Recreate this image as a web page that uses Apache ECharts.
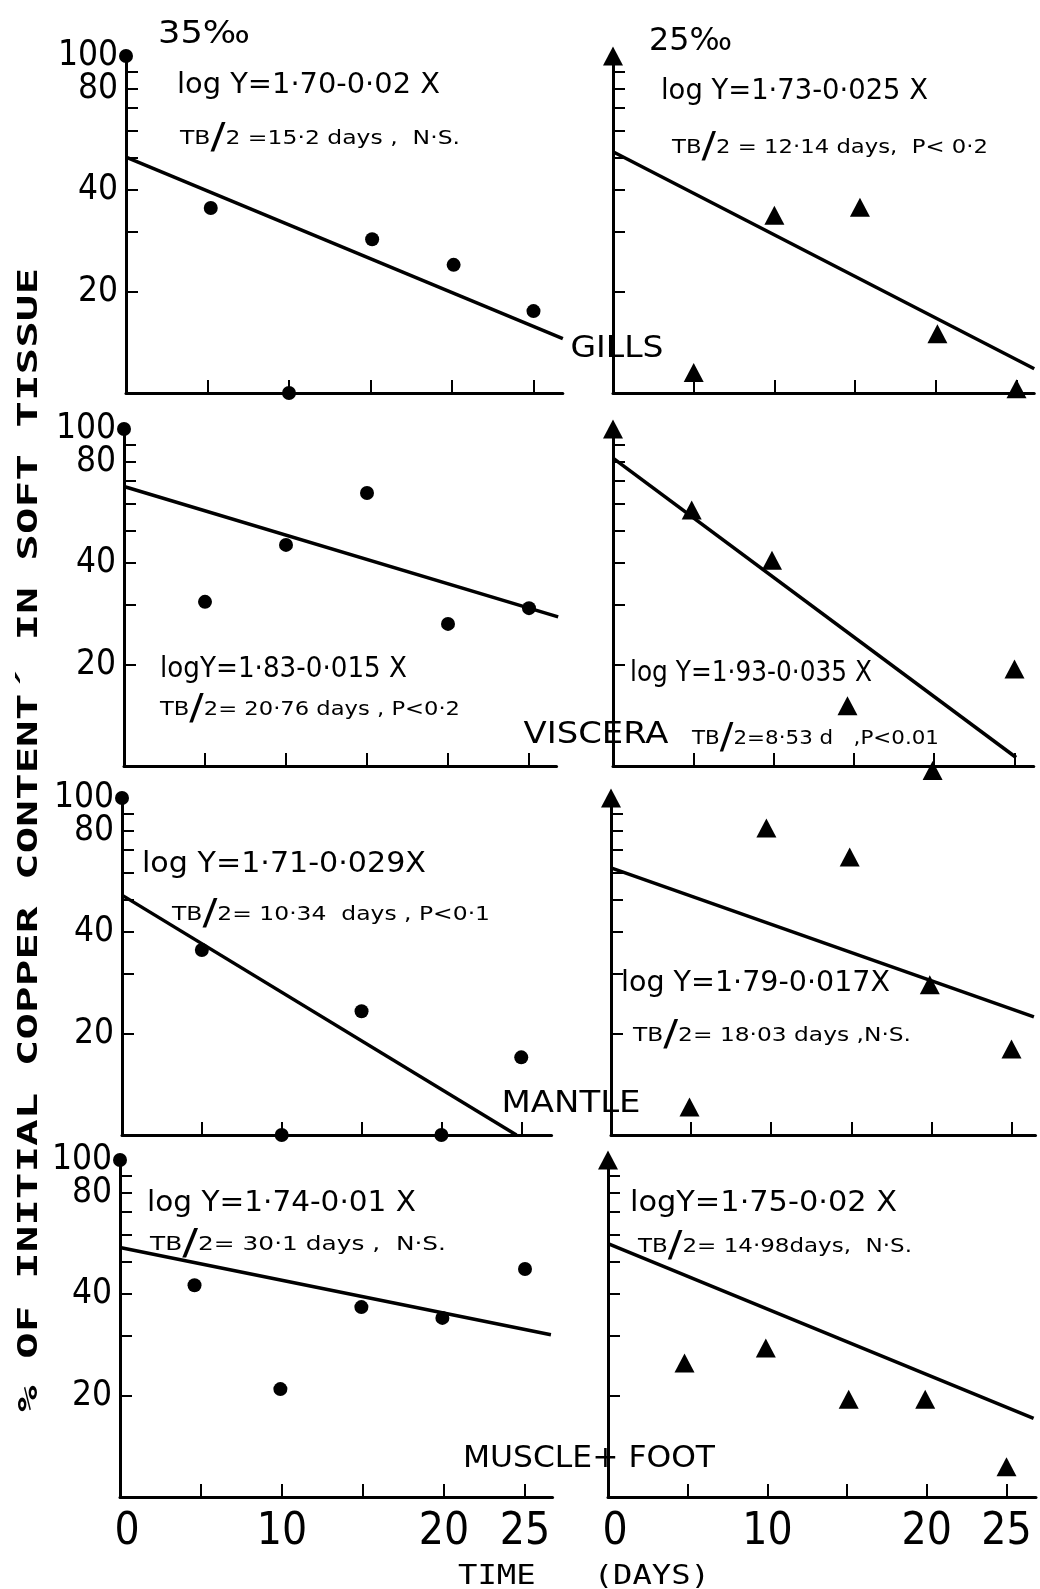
<!DOCTYPE html>
<html>
<head>
<meta charset="utf-8">
<title>Copper loss from soft tissues</title>
<script src="https://cdn.jsdelivr.net/npm/echarts@6/dist/echarts.min.js"></script>
<style>
  html, body { margin: 0; padding: 0; background: #fff; }
  #chart { width: 1040px; height: 1589px; }
</style>
</head>
<body>
<div id="chart"></div>
<script>
// ---- data -------------------------------------------------------------
// Sampling days as plotted in each panel
const daysGills35   = [0, 5.2, 10, 15.1, 20.1, 25];
const daysGills25   = [0, 5, 10, 15.3, 20.1, 25];
const daysViscera35 = [0, 5, 10, 15, 20, 25];
const daysViscera25 = [0, 4.9, 9.9, 14.6, 19.9, 25];
const daysMantle35  = [0, 5, 10, 15, 20, 25];
const daysMantle25  = [0, 4.9, 9.7, 14.9, 19.9, 25];
const daysMuscle35  = [0, 4.6, 9.9, 14.9, 19.9, 25];
const daysMuscle25  = [0, 4.8, 9.9, 15.1, 19.9, 25];

// % of initial copper remaining; 35‰ (circles) and 25‰ (triangles)
const gills35   = [100, 35.4, 10, 28.6, 24.0, 17.5];
const gills25   = [100, 11.5, 33.7, 35.6, 15.0, 10.3];
const viscera35 = [100, 30.7, 45.3, 64.6, 26.4, 29.4];
const viscera25 = [100, 57.5, 40.8, 15.1, 9.7, 19.4];
const mantle35  = [100, 35.4, 10, 23.3, 10, 17.0];
const mantle25  = [100, 12.1, 81.5, 66.8, 27.9, 18.0];
const muscle35  = [100, 42.5, 20.9, 36.6, 34.0, 47.5];
const muscle25  = [100, 25.0, 27.7, 19.5, 19.5, 12.3];

// Regression lines, [day, %] at each end
const gills35Fit   = [[0, 50.1], [26.8, 14.5]];
const gills25Fit   = [[0, 52.0], [26.1, 11.8]];
const viscera35Fit = [[0, 67.5], [26.8, 27.7]];
const viscera25Fit = [[0, 82.0], [25.1, 10.6]];
const mantle35Fit  = [[0, 51.5], [24.7, 10.0]];
const mantle25Fit  = [[0, 62.0], [26.4, 22.4]];
const muscle35Fit  = [[0, 55.0], [26.6, 30.3]];
const muscle25Fit  = [[0, 56.5], [26.7, 17.1]];

// Equations and half-lives
const eqGills35   = ['log Y=1·70-0·02 X', ['TB', '/', '2 =15·2 days ,  N·S.']];
const eqGills25   = ['log Y=1·73-0·025 X', ['TB', '/', '2 = 12·14 days,  P< 0·2']];
const eqViscera35 = ['logY=1·83-0·015 X', ['TB', '/', '2= 20·76 days , P<0·2']];
const eqViscera25 = ['log Y=1·93-0·035 X', ['TB', '/', '2=8·53 d   ,P<0.01']];
const eqMantle35  = ['log Y=1·71-0·029X', ['TB', '/', '2= 10·34  days , P<0·1']];
const eqMantle25  = ['log Y=1·79-0·017X', ['TB', '/', '2= 18·03 days ,N·S.']];
const eqMuscle35  = ['log Y=1·74-0·01 X', ['TB', '/', '2= 30·1 days ,  N·S.']];
const eqMuscle25  = ['logY=1·75-0·02 X', ['TB', '/', '2= 14·98days,  N·S.']];

const tissueNames = ['GILLS', 'VISCERA', 'MANTLE', 'MUSCLE+ FOOT'];
const salinityNames = ['35‰', '25‰'];

// Axis ticks and labels
const yTicks = [20, 30, 40, 50, 60, 70, 80, 90];
const yTickLabels = [20, 40, 80];
const yTopLabel = [100];
const xTicks = [5, 10, 15, 20, 25];
const xTickLabels = [0, 10, 20, 25];

const yTitle = '% OF INITIAL COPPER CONTENT´ IN SOFT TISSUE';
const xTitle = 'TIME   (DAYS)';

// ---- fonts --------------------------------------------------------------
const measureCtx = document.createElement('canvas').getContext('2d');
function textWidth(text, size, family, weight) {
  measureCtx.font = (weight || 'normal') + ' ' + size + 'px "' + family + '"';
  return measureCtx.measureText(text).width;
}
function pickFont(list) {
  const probe = 'MUSCLE 0123456789';
  for (const f of list) {
    measureCtx.font = '40px monospace';
    const w0 = measureCtx.measureText(probe).width;
    measureCtx.font = '40px "' + f + '", monospace';
    const w1 = measureCtx.measureText(probe).width;
    if (Math.abs(w1 - w0) > 0.5) return f;
  }
  return 'DejaVu Sans';
}
const NARROW = pickFont(['Liberation Sans Narrow', 'DejaVu Sans Condensed', 'Liberation Sans']);
const IS_NARROW = NARROW !== 'Liberation Sans';
const SANS = 'DejaVu Sans';
const MONO = 'DejaVu Sans Mono';

// ---- layout -------------------------------------------------------------
const ROW_TOP = [56, 429, 798, 1160];
const ROW_H = 337;
const COL_LEFT = [[126, 613], [124, 613], [122, 611], [120, 608]];
const PX_PER_DAY = [[16.3, 16.14], [16.2, 16.06], [15.97, 16.02], [16.2, 15.94]];
const X_MAX = [[26.8, 26.1], [26.7, 26.2], [26.9, 26.5], [26.7, 26.85]];

const PANELS = [
  { days: daysGills35,   values: gills35,   fit: gills35Fit },
  { days: daysGills25,   values: gills25,   fit: gills25Fit },
  { days: daysViscera35, values: viscera35, fit: viscera35Fit },
  { days: daysViscera25, values: viscera25, fit: viscera25Fit },
  { days: daysMantle35,  values: mantle35,  fit: mantle35Fit },
  { days: daysMantle25,  values: mantle25,  fit: mantle25Fit },
  { days: daysMuscle35,  values: muscle35,  fit: muscle35Fit },
  { days: daysMuscle25,  values: muscle25,  fit: muscle25Fit }
];
const EQUATIONS = [eqGills35, eqGills25, eqViscera35, eqViscera25,
                   eqMantle35, eqMantle25, eqMuscle35, eqMuscle25];

// [left, middle-y, width] of the equation lines
const EQ1_POS = [[177, 85, 263], [661, 91, 267], [160, 669, 247], [630, 673, 242],
                 [142, 864, 284], [621, 983, 269], [147, 1203, 269], [630, 1203, 267]];
const EQ2_POS = [[180, 139, 280], [672, 148, 316], [160, 710, 300], [692, 739, 247],
                 [172, 915, 318], [633, 1036, 278], [150, 1245, 296], [638, 1247, 274]];
// [centre-x, centre-y, width] of the tissue names
const NAME_POS = [[617, 349, 93], [596, 735, 145], [571, 1104, 139], [589, 1459, 252]];
const SAL_POS = [[158, 35, 92], [649, 42, 83]];

const LOG = v => Math.log10(v);
const X_SIZE = IS_NARROW ? 44 : 34;
const Y_SIZE = IS_NARROW ? 35 : 27;

function yLabelStyle(values) {
  return {
    show: true, customValues: values.map(LOG), margin: 8,
    showMinLabel: true, showMaxLabel: true, hideOverlap: false,
    color: '#000', fontFamily: NARROW, fontSize: Y_SIZE,
    formatter: v => String(Math.round(Math.pow(10, v)))
  };
}

const grids = [], xAxes = [], yAxes = [], labelAxes = [], series = [];
PANELS.forEach((p, i) => {
  const row = Math.floor(i / 2), col = i % 2;
  const xMax = X_MAX[row][col];
  grids.push({
    left: COL_LEFT[row][col], top: ROW_TOP[row],
    width: xMax * PX_PER_DAY[row][col], height: ROW_H
  });
  const bottomRow = row === 3;
  xAxes.push({
    type: 'value', gridIndex: i, min: 0, max: xMax,
    axisLine: { show: true, onZero: false, lineStyle: { color: '#000', width: 3 } },
    axisTick: { show: true, inside: true, length: 13, customValues: xTicks,
                lineStyle: { color: '#000', width: 2 } },
    splitLine: { show: false },
    axisLabel: {
      show: bottomRow, customValues: xTickLabels, margin: 14,
      showMinLabel: true, showMaxLabel: true, hideOverlap: false,
      color: '#000', fontFamily: NARROW, fontSize: X_SIZE,
      formatter: v => v === 0 ? '{z|0}' : String(v),
      rich: { z: { padding: [0, 0, 0, 14], color: '#000', fontFamily: NARROW, fontSize: X_SIZE } }
    }
  });
  const yLabel = yLabelStyle(yTickLabels);
  yLabel.show = col === 0;
  yAxes.push({
    type: 'value', gridIndex: i, min: 1, max: 2,
    axisLine: { show: true, onZero: false, lineStyle: { color: '#000', width: 3 } },
    axisTick: { show: true, inside: true, length: 12, customValues: yTicks.map(LOG),
                lineStyle: { color: '#000', width: 2 } },
    splitLine: { show: false },
    axisLabel: yLabel
  });
  // The "100" label sits on its own axis so it is not dropped next to "80"
  if (col === 0) {
    labelAxes.push({
      type: 'value', gridIndex: i, min: 1, max: 2, position: 'left',
      axisLine: { show: false }, axisTick: { show: false }, splitLine: { show: false },
      axisLabel: yLabelStyle(yTopLabel)
    });
  }
  series.push({
    type: 'line', xAxisIndex: i, yAxisIndex: i, symbol: 'none', clip: false,
    lineStyle: { color: '#000', width: 3.5 }, z: 2,
    data: p.fit.map(d => [d[0], LOG(d[1])])
  });
  series.push({
    type: 'scatter', xAxisIndex: i, yAxisIndex: i, clip: false, z: 3,
    symbol: col === 0 ? 'circle' : 'triangle',
    symbolSize: col === 0 ? 14 : [20, 19],
    itemStyle: { color: '#000', opacity: 1 },
    data: p.days.map((d, j) => [d, LOG(p.values[j])])
  });
});

// ---- text -------------------------------------------------------------
function plainText(text, x, y, width, size, family, align, weight) {
  const w = textWidth(text, size, family, weight);
  return {
    type: 'text', x: x, y: y, scaleX: width / w, z: 10,
    style: { text: text, fontSize: size, fontFamily: family, fontWeight: weight || 'normal',
             fill: '#000', align: align || 'left', verticalAlign: 'middle' }
  };
}
function halfLifeText(parts, x, y, width) {
  const s = 19, big = 36;
  const w = textWidth(parts[0], s, SANS) + textWidth(parts[1], big, SANS) +
            textWidth(parts[2], s, SANS);
  return {
    type: 'text', x: x, y: y, scaleX: width / w, z: 10,
    style: {
      text: '{t|' + parts[0] + '}{s|' + parts[1] + '}{t|' + parts[2] + '}',
      align: 'left', verticalAlign: 'middle', fill: '#000',
      rich: {
        t: { fontSize: s, fontFamily: SANS, fill: '#000' },
        s: { fontSize: big, fontFamily: SANS, fill: '#000' }
      }
    }
  };
}

const graphics = [];
EQUATIONS.forEach((eq, i) => {
  const a = EQ1_POS[i], b = EQ2_POS[i];
  graphics.push(plainText(eq[0], a[0], a[1], a[2], 29, SANS));
  graphics.push(halfLifeText(eq[1], b[0], b[1], b[2]));
});
tissueNames.forEach((name, i) => {
  const p = NAME_POS[i];
  graphics.push(plainText(name, p[0], p[1], p[2], 31, SANS, 'center'));
});
salinityNames.forEach((name, i) => {
  const p = SAL_POS[i];
  graphics.push(plainText(name, p[0], p[1], p[2], 32, SANS));
});
// Rotated y title, read from bottom to top
(function () {
  const size = 26;
  const w = textWidth(yTitle, size, MONO, 'bold');
  graphics.push({
    type: 'text', x: 30, y: 840, rotation: Math.PI / 2, scaleX: 1144 / w, z: 10,
    style: { text: yTitle, fontSize: size, fontFamily: MONO, fontWeight: 'bold', fill: '#000',
             align: 'center', verticalAlign: 'middle' }
  });
})();
graphics.push(plainText(xTitle, 584, 1577, 252, 26, MONO, 'center'));

const chart = echarts.init(document.getElementById('chart'), null, { renderer: 'canvas' });
chart.setOption({
  backgroundColor: '#fff',
  animation: false,
  grid: grids,
  xAxis: xAxes,
  yAxis: yAxes.concat(labelAxes),
  series: series,
  graphic: graphics
});
</script>
</body>
</html>
